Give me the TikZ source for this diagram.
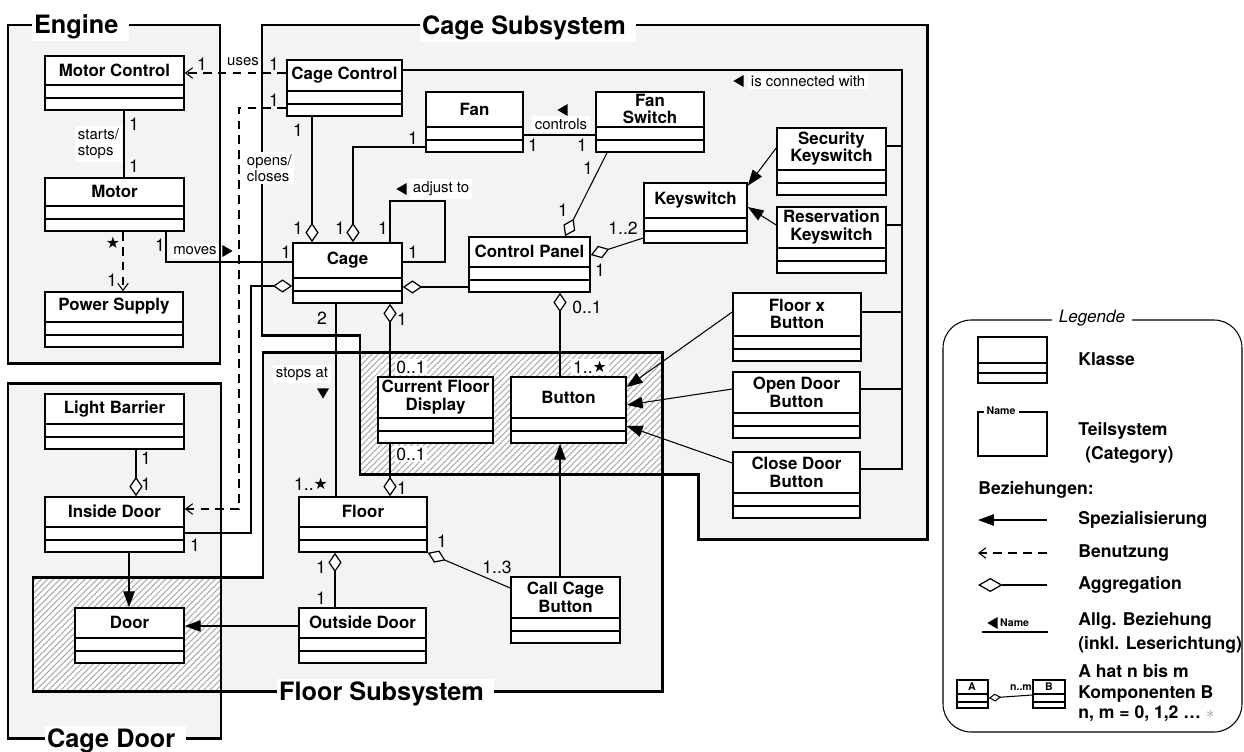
\documentclass[tikz,border=0pt]{standalone}
\usepackage{fontspec}
\setmainfont{TeX Gyre Heros}
\newfontfamily\symfont{DejaVu Sans}
\usetikzlibrary{arrows.meta, positioning, fit, calc, patterns.meta}
\definecolor{subgray}{RGB}{243,243,243}

\newcommand{\umlclass}[4]{%
  \node[cls, fit={#2 #3}] (#1) {};
  \coordinate (#1-d) at ([yshift=14.7pt]#1.south);
  \draw[clsline] (#1.west |- #1-d) -- (#1.east |- #1-d)
    ([yshift=7.4pt]#1.south west) -- ([yshift=7.4pt]#1.south east);
  \node[clsname] (#1-name) at ($(#1.north)!0.5!(#1-d)$) {#4};
}
\newcommand{\dirmark}[3]{%
  \fill[shift={(#1,#2)}, rotate=#3] (3.2pt,0) -- (-2.6pt,3.4pt) -- (-2.6pt,-3.4pt) -- cycle;
}
\newcommand{\many}{\raisebox{0.3pt}{\symfont\fontsize{9}{9}\selectfont ★}}

\begin{document}
\begin{tikzpicture}[x=0.02cm, y=-0.02cm,
  cls/.style={draw, line width=0.9pt, fill=white, inner sep=0pt},
  clsline/.style={line width=0.9pt},
  clsname/.style={font=\fontsize{9.6}{10}\selectfont\bfseries, align=center, inner sep=0pt},
  sysframe/.style={line width=1.7pt},
  systitle/.style={font=\fontsize{14.4}{15}\selectfont\bfseries, fill=white, inner ysep=1.5pt, inner xsep=1pt, anchor=base west},
  mult/.style={font=\fontsize{10}{11}\selectfont, inner sep=1pt},
  multbg/.style={mult, fill=white},
  role/.style={font=\fontsize{8.5}{9}\selectfont, inner sep=1.5pt, fill=white, align=left},
  assoc/.style={line width=0.6pt},
  agg/.style={assoc, -{Diamond[length=11pt, width=7.5pt, fill=white, line width=0.7pt]}},
  gen/.style={assoc, -{Triangle[length=9pt, width=6.5pt]}},
  dep/.style={assoc, dash pattern=on 5pt off 3.5pt, -{Straight Barb[length=4pt, width=6pt]}},
  hatch/.style={fill=white, postaction={pattern={Lines[angle=45, distance=2.5pt, line width=0.6pt]}, pattern color=gray!65}},
  legtext/.style={font=\fontsize{10}{12}\selectfont\bfseries, anchor=west, align=left, inner sep=0pt},
  smalltag/.style={font=\fontsize{6}{7}\selectfont\bfseries, inner sep=1pt},
]
\useasboundingbox (0,0) rectangle (1244,751);

\fill[subgray] (8,383) rectangle (221,738);
\fill[subgray] (263,352) -- (662,352) -- (662,691) -- (33,691) -- (33,577) -- (263,577) -- cycle;
\fill[subgray] (262,25) -- (927,25) -- (927,539) -- (698,539) -- (698,474) -- (360,474) -- (360,335) -- (262,335) -- cycle;
\fill[subgray] (8,25) rectangle (220,363);
\path[hatch] (360,352) rectangle (662,474);
\path[hatch] (33,577) rectangle (221,691);
\draw[sysframe] (8,25) rectangle (220,363);
\draw[sysframe] (262,25) -- (927,25) -- (927,539) -- (698,539) -- (698,474) -- (360,474) -- (360,335) -- (262,335) -- cycle;
\draw[sysframe] (263,352) -- (662,352) -- (662,691) -- (33,691) -- (33,577) -- (263,577) -- cycle;
\draw[sysframe] (8,383) rectangle (221,738);

\node[systitle] (engtitle) at (32,33) {Engine\hspace*{5pt}};
\node[systitle] (cagetitle) at (420,34) {Cage Subsystem\hspace*{5pt}};
\node[systitle] (floortitle) at (277,700) {Floor Subsystem\hspace*{5pt}};
\node[systitle] (doortitle) at (45,747) {Cage Door\hspace*{5pt}};

\umlclass{motorctrl}{(45,56)}{(184,110)}{Motor Control}
\umlclass{motor}{(45,178)}{(184,231)}{Motor}
\umlclass{power}{(45,292)}{(183,347)}{Power Supply}
\umlclass{cagectrl}{(287,60)}{(402,116)}{Cage Control}
\umlclass{fan}{(426,92)}{(523,152)}{Fan}
\umlclass{fanswitch}{(596,92)}{(704,152)}{Fan\\Switch}
\umlclass{cage}{(293,243)}{(402,303)}{Cage}
\umlclass{ctrlpanel}{(469,237)}{(590,292)}{Control Panel}
\umlclass{keyswitch}{(644,183)}{(747,243)}{Keyswitch}
\umlclass{seckey}{(777,128)}{(886,195)}{Security\\Keyswitch}
\umlclass{reskey}{(777,207)}{(886,273)}{Reservation\\Keyswitch}
\umlclass{floorbtn}{(733,293)}{(861,361)}{Floor x\\Button}
\umlclass{openbtn}{(733,372)}{(860,438)}{Open Door\\Button}
\umlclass{closebtn}{(733,452)}{(860,518)}{Close Door\\Button}
\umlclass{display}{(378,377)}{(493,443)}{Current Floor\\Display}
\umlclass{button}{(511,377)}{(626,443)}{Button}
\umlclass{floor}{(299,497)}{(427,552)}{Floor}
\umlclass{outdoor}{(299,608)}{(426,663)}{Outside Door}
\umlclass{callbtn}{(511,577)}{(620,643)}{Call Cage\\Button}
\umlclass{lightbar}{(45,394)}{(184,449)}{Light Barrier}
\umlclass{indoor}{(45,497)}{(184,552)}{Inside Door}
\umlclass{door}{(75,608)}{(184,663)}{Door}

% engine
\draw[dep] (cagectrl.west |- 0,73) -- (motorctrl.east |- 0,73);
\node[mult] at (202,64) {1};
\node[role] at (243,62) {uses};
\node[mult] at (274,64) {1};
\draw[assoc] (motorctrl.south -| 124,0) -- (motor.north -| 124,0);
\node[mult] at (134,124) {1};
\node[mult] at (134,166) {1};
\node[role, anchor=west] at (75,144) {starts/\\stops};
\draw[dep] (motor.south -| 123,0) -- (power.north -| 123,0);
\node[mult] at (113,243) {\many};
\node[mult] at (112,280) {1};
\draw[assoc] (motor.south -| 166,0) |- (cage.west |- 0,262);
\node[mult] at (160,245) {1};
\node[role] at (195,251) {moves};
\dirmark{227}{251}{0}
\node[mult] at (286,252) {1};

% cage subsystem
\draw[dep] (cagectrl.west |- 0,108) -- (239,108) -- (239,509) -- (indoor.east |- 0,509);
\node[mult] at (274,100) {1};
\node[role, anchor=west] at (244,168) {opens/\\closes};
\draw[agg] (cagectrl.south -| 312,0) -- (cage.north -| 312,0);
\node[mult] at (298,130) {1};
\node[mult] at (298,228) {1};
\draw[agg] (fan.west |- 0,147) -| (cage.north -| 353,0);
\node[mult] at (413,138) {1};
\node[mult] at (340,228) {1};
\draw[assoc] (cage.north -| 390,0) -- (390,201) -- (445,201) |- (cage.east |- 0,262);
\node[mult] at (383,228) {1};
\node[mult] at (413,252) {1};
\dirmark{402}{189}{180}
\node[role, anchor=west] at (410,189) {adjust to};
\draw[assoc] (fan.east |- 0,135) -- (fanswitch.west |- 0,135);
\node[mult] at (533,145) {1};
\node[mult] at (582,145) {1};
\node[role] at (561,124) {controls};
\dirmark{563}{110}{180}
\draw[agg] (fanswitch.south -| 607,0) -- (ctrlpanel.north -| 565,0);
\node[mult] at (588,168) {1};
\node[mult] at (563,210) {1};
\draw[agg] (keyswitch.west |- 0,238) -- (ctrlpanel.east |- 0,255);
\node[mult] at (623,228) {1..2};
\node[mult] at (600,270) {1};
\draw[gen] (seckey.west |- 0,148) -- ([yshift=-2pt]keyswitch.north east);
\draw[gen] (reskey.west |- 0,225) -- (keyswitch.east |- 0,207);
\draw[assoc] (cagectrl.east |- 0,70) -- (902,70) -- (902,469) -- (closebtn.east |- 0,469);
\draw[assoc] (seckey.east |- 0,146) -- (902,146);
\draw[assoc] (reskey.east |- 0,225) -- (902,225);
\draw[assoc] (floorbtn.east |- 0,312) -- (902,312);
\draw[assoc] (openbtn.east |- 0,389) -- (902,389);
\dirmark{739}{81}{180}
\node[role, anchor=west] at (748,81) {is connected with};
\draw[agg] (indoor.east |- 0,533) -| (251,286) -- (cage.west |- 0,286);
\node[mult] at (195,545) {1};
\draw[agg] (ctrlpanel.west |- 0,287) -- (cage.east |- 0,287);
\draw[agg] (display.north -| 390,0) -- (cage.south -| 390,0);
\node[mult] at (402,319) {1};
\node[multbg] at (411,367) {0..1};
\draw[agg] (button.north -| 560,0) -- (ctrlpanel.south -| 560,0);
\node[mult] at (587,307) {0..1};
\node[multbg] at (590,367) {1..\many};
\draw[gen] (floorbtn.west |- 0,312) -- (button.east |- 0,387);
\draw[gen] (openbtn.west |- 0,389) -- (button.east |- 0,405);
\draw[gen] (closebtn.west |- 0,463) -- (button.east |- 0,426);

% floor subsystem
\draw[assoc] (cage.south -| 336,0) -- (floor.north -| 336,0);
\node[mult] at (322,318) {2};
\node[mult] at (311,484) {1..\many};
\node[role] at (302,374) {stops at};
\dirmark{323}{393}{-90}
\draw[agg] (display.south -| 390,0) -- (floor.north -| 390,0);
\node[multbg] at (411,454) {0..1};
\node[mult] at (402,488) {1};
\draw[gen] (callbtn.north -| 560,0) -- (button.south -| 560,0);
\draw[agg] (callbtn.west |- 0,588) -- (floor.south east);
\node[mult] at (442,541) {1};
\node[mult] at (497,567) {1..3};
\draw[agg] (outdoor.north -| 335,0) -- (floor.south -| 335,0);
\node[mult] at (321,567) {1};
\node[mult] at (321,598) {1};
\draw[gen] (outdoor.west |- 0,626) -- (door.east |- 0,626);

% cage door
\draw[agg] (lightbar.south -| 136,0) -- (indoor.north -| 136,0);
\node[mult] at (146,458) {1};
\node[mult] at (146,484) {1};
\draw[gen] (indoor.south -| 129,0) -- (door.north -| 129,0);

% legend
\draw[line width=0.6pt, rounded corners=16pt, fill=white] (943,320) rectangle (1242,732);
\node[font=\fontsize{9.7}{10}\selectfont\itshape, fill=white, inner sep=4pt] (legtitle) at (1092,318) {Legende};
\node[cls, fit={(978,337) (1047,383)}] (legcls) {};
\draw[clsline] (legcls.west |- 0,363) -- (legcls.east |- 0,363) (legcls.west |- 0,373) -- (legcls.east |- 0,373);
\node[legtext] (klasse) at (1078,359) {Klasse};
\draw[clsline] (984,412) -- (978,412) -- (978,456) -- (1047,456) -- (1047,412) -- (1019,412);
\node[smalltag] (legname) at (1001,411) {Name};
\node[legtext, font=\fontsize{10}{14}\selectfont\bfseries] (teil) at (1078,443) {Teilsystem\\\hspace*{4pt}(Category)};
\node[legtext] (bez) at (978,490) {Beziehungen:};
\draw[gen] (1047,520) -- (978,520);
\node[legtext] (spez) at (1078,520) {Spezialisierung};
\draw[dep] (1047,553) -- (978,553);
\node[legtext] (benu) at (1078,553) {Benutzung};
\draw[assoc, -{Diamond[length=14pt, width=8pt, fill=white, line width=0.7pt]}] (1047,585) -- (978,585);
\node[legtext] (aggr) at (1078,585) {Aggregation};
\draw[assoc] (982,632) -- (1048,632);
\dirmark{993}{623}{180}
\node[smalltag, anchor=west] (legrel) at (998,623) {Name};
\node[legtext, font=\fontsize{10}{14}\selectfont\bfseries] (allg) at (1078,633) {Allg. Beziehung\\(inkl. Leserichtung)};
\node[cls, fit={(957,680) (988,708)}] (lega) {};
\draw[clsline] (lega.west |- 0,694) -- (lega.east |- 0,694) (lega.west |- 0,702) -- (lega.east |- 0,702);
\node[smalltag] at (972,687) {A};
\node[cls, fit={(1033,680) (1065,708)}] (legb) {};
\draw[clsline] (legb.west |- 0,694) -- (legb.east |- 0,694) (legb.west |- 0,702) -- (legb.east |- 0,702);
\node[smalltag] at (1049,687) {B};
\draw[assoc, -{Diamond[length=7pt, width=4.5pt, fill=white, line width=0.6pt]}] (legb.west |- 0,695) -- (lega.east |- 0,698);
\node[smalltag] at (1021,688) {n..m};
\node[legtext, font=\fontsize{10}{11.5}\selectfont\bfseries] (ahat) at (1078,693) {A hat n bis m\\Komponenten B\\n, m = 0, 1,2 \dots\ \smash{\color{gray!80}$\ast$}};
\end{tikzpicture}
\end{document}
